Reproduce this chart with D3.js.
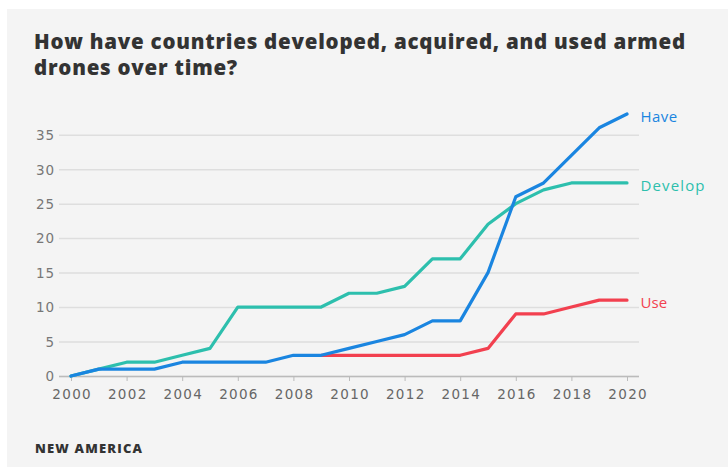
<!DOCTYPE html>
<html><head><meta charset="utf-8">
<script src="https://cdn.jsdelivr.net/npm/d3@7"></script>
<style>
html,body{margin:0;padding:0;background:#fff;}
svg{display:block;}
</style></head>
<body>
<svg id="chart" width="728" height="472"></svg>
<script>
const years = [2000,2001,2002,2003,2004,2005,2006,2007,2008,2009,2010,2011,2012,2013,2014,2015,2016,2017,2018,2019,2020];
const haveValues =    [0,1,1,1,2,2,2,2,3,3,4,5,6,8,8,15,26,28,32,36,38];
const developValues = [0,1,2,2,3,4,10,10,10,10,12,12,13,17,17,22,25,27,28,28,28];
const useYears =  [2009,2010,2011,2012,2013,2014,2015,2016,2017,2018,2019,2020];
const useValues = [3,3,3,3,3,3,4,9,9,10,11,11];
const yTicks = [0,5,10,15,20,25,30,35];
const xTicks = [2000,2002,2004,2006,2008,2010,2012,2014,2016,2018,2020];
const seriesNames = ["Develop","Use","Have"];
const seriesColors = ["#2dbfad","#f2404f","#1a85e0"];
const titleLines = ["How have countries developed, acquired, and used armed","drones over time?"];
const sourceText = "NEW AMERICA";

const SANS = "'Open Sans', 'DejaVu Sans', sans-serif";
const NUM = "'DejaVu Sans', sans-serif";
const svg = d3.select("#chart");

function fitPerChar(sel, perChar){
  sel.each(function(){
    const n = this.textContent.length;
    const w = this.getComputedTextLength();
    const ls = (perChar*n - w)/n;
    d3.select(this).attr("letter-spacing", ls.toFixed(2));
  });
}
function fitWidth(sel, target){
  sel.each(function(){
    const n = this.textContent.length;
    const w = this.getComputedTextLength();
    const ls = (target - w)/(n-1);
    d3.select(this).attr("letter-spacing", ls.toFixed(2));
  });
}

svg.append("rect").attr("x",7).attr("y",9).attr("width",721).attr("height",458).attr("fill","#f4f4f4");

const t1 = svg.append("text").attr("x",34).attr("y",49).attr("font-family",SANS).attr("font-weight",800)
  .attr("font-size",20.5).attr("fill","#333").text(titleLines[0]);
fitWidth(t1, 651);
const ls1 = t1.attr("letter-spacing");
svg.append("text").attr("x",34).attr("y",74.5).attr("font-family",SANS).attr("font-weight",800)
  .attr("font-size",20.5).attr("fill","#333").attr("letter-spacing",ls1).text(titleLines[1]);

const x = d3.scaleLinear().domain([2000,2020]).range([71,627]);
const y = d3.scaleLinear().domain([0,35]).range([376,134.7]);

const gridG = svg.append("g").attr("transform","translate(59,0)")
  .call(d3.axisLeft(y).tickValues(yTicks).tickSize(-580).tickFormat(d3.format("d")).tickPadding(6));
gridG.select(".domain").remove();
gridG.selectAll(".tick line").attr("stroke","#dedede").attr("stroke-width",1.5);
gridG.selectAll(".tick text").attr("font-family",NUM).attr("font-size",13.5)
  .attr("fill","#777").attr("x",-5).attr("dy","0.36em");
fitPerChar(gridG.selectAll(".tick text"), 9.4);
gridG.selectAll(".tick text").attr("dx", function(){ return d3.select(this).attr("letter-spacing"); });

const xG = svg.append("g").attr("transform","translate(0,376)")
  .call(d3.axisBottom(x).tickValues(xTicks).tickFormat(d3.format("d")).tickSize(5).tickSizeOuter(0).tickPadding(5));
xG.select(".domain").attr("d","M59,0.5H639").attr("stroke","#bbb").attr("stroke-width",1.5);
xG.selectAll(".tick line").attr("stroke","#bbb");
xG.selectAll(".tick text").attr("font-family",NUM).attr("font-size",13.5).attr("fill","#666")
  .attr("y",23).attr("dy",0);
fitPerChar(xG.selectAll(".tick text"), 9.9);
xG.selectAll(".tick text").attr("dx", function(){ return (+d3.select(this).attr("letter-spacing"))/2; });

const line = d3.line().x(d=>x(d[0])).y(d=>y(d[1]));
const seriesData = [
  d3.zip(years, developValues),
  d3.zip(useYears, useValues),
  d3.zip(years, haveValues)
];
const labelWidths = {"Develop":64,"Use":26.7,"Have":36.7};
seriesData.forEach((data,i)=>{
  svg.append("path").datum(data).attr("d",line).attr("fill","none")
    .attr("stroke",seriesColors[i]).attr("stroke-width",3.2).attr("stroke-linejoin","round").attr("stroke-linecap","round");
  const last = data[data.length-1];
  const lab = svg.append("text").attr("x",x(last[0])+13.5).attr("y",y(last[1])+7.6)
    .attr("font-family",SANS).attr("font-size",15)
    .attr("fill",seriesColors[i]).text(seriesNames[i]);
  fitWidth(lab, labelWidths[seriesNames[i]]);
});

const src = svg.append("text").attr("x",35).attr("y",452.7).attr("font-family",SANS).attr("font-weight",800)
  .attr("font-size",13).attr("fill","#333").text(sourceText);
fitWidth(src, 107);
</script>
</body></html>
